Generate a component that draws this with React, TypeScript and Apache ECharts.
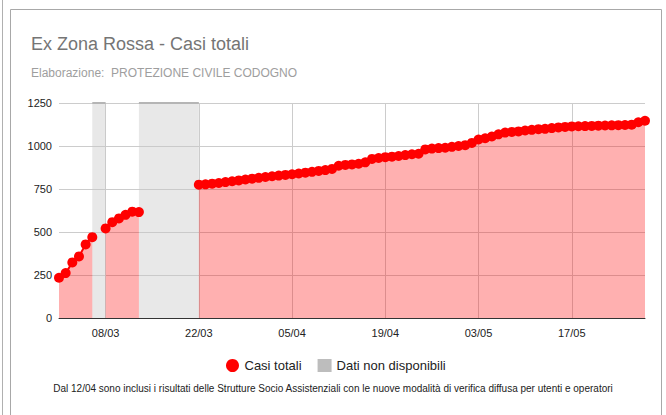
import React, { useEffect, useRef } from "react";
import * as echarts from "echarts";

// Category axis: every day from 01/03 to 28/05
const START_DAY = 1;
const START_MONTH = 3;
const DAY_COUNT = 89;
const dates: string[] = [];
for (let i = 0; i < DAY_COUNT; i++) {
  const d = new Date(2020, START_MONTH - 1, START_DAY + i);
  const dd = String(d.getDate()).padStart(2, "0");
  const mm = String(d.getMonth() + 1).padStart(2, "0");
  dates.push(`${dd}/${mm}`);
}

// Casi totali, segment 1: 01/03 - 06/03
const casiSegment1 = [234, 261, 323, 358, 428, 470];
// 07/03: no data
const gap1 = [null];
// segment 2: 08/03 - 13/03
const casiSegment2 = [521, 557, 579, 600, 618, 616];
// 14/03 - 21/03: no data
const gap2 = [null, null, null, null, null, null, null, null];
// segment 3: 22/03 - 28/05
const casiSegment3 = [
  775, 777, 781, 785, 790, 795, 800, 805, 810, 815,
  820, 824, 828, 832, 836, 840, 845, 850, 855, 860,
  867, 885, 890, 893, 897, 905, 925, 930, 935, 938,
  942, 947, 952, 955, 980, 985, 988, 990, 995, 1000,
  1005, 1018, 1038, 1045, 1055, 1068, 1078, 1082, 1085, 1090,
  1094, 1098, 1100, 1104, 1108, 1111, 1114, 1115, 1116, 1117,
  1118, 1119, 1120, 1121, 1122, 1124, 1138, 1147,
];
const casiTotali: (number | null)[] = [
  ...casiSegment1,
  ...gap1,
  ...casiSegment2,
  ...gap2,
  ...casiSegment3,
];

// "Dati non disponibili" bands (value = top of axis) on the days that bound the gaps
const NA_VALUE = 1250;
const naDays = ["06/03", "07/03", "08/03", "13/03", "14/03", "15/03", "16/03", "17/03", "18/03", "19/03", "20/03", "21/03", "22/03"];
const datiNonDisponibili: (number | null)[] = dates.map((d) => (naDays.includes(d) ? NA_VALUE : null));

const yTicks = { min: 0, max: 1250, interval: 250 };
const TITLE = "Ex Zona Rossa - Casi totali";
const SUBTITLE = "Elaborazione:  PROTEZIONE CIVILE CODOGNO";
const NOTE =
  "Dal 12/04 sono inclusi i risultati delle Strutture Socio Assistenziali con le nuove modalità di verifica diffusa per utenti e operatori";

const FONT = "'Liberation Sans', Arial, sans-serif";

export default function App() {
  const ref = useRef<HTMLDivElement>(null);
  useEffect(() => {
    if (!ref.current) return;
    const chart = echarts.init(ref.current, undefined, { renderer: "svg" });
    const labelEvery = (index: number) => index >= 7 && (index - 7) % 14 === 0;
    chart.setOption({
      animation: false,
      backgroundColor: "#ffffff",
      textStyle: { fontFamily: FONT },
      grid: { left: 59, right: 21, top: 103, bottom: 97, containLabel: false },
      legend: {
        left: 221,
        top: 354,
        itemGap: 16,
        itemWidth: 14,
        itemHeight: 13,
        textStyle: { fontSize: 13, color: "#222", fontFamily: FONT },
        data: [
          { name: "Casi totali", icon: "circle" },
          { name: "Dati non disponibili", icon: "rect" },
        ],
      },
      xAxis: {
        type: "category",
        data: dates,
        boundaryGap: false,
        axisTick: { show: false },
        axisLine: { lineStyle: { color: "#333", width: 1 } },
        axisLabel: { interval: labelEvery, color: "#222", fontSize: 11, margin: 9, fontFamily: FONT },
        splitLine: { show: true, interval: labelEvery, lineStyle: { color: "#cccccc" } },
      },
      yAxis: {
        type: "value",
        ...yTicks,
        axisLabel: { color: "#222", fontSize: 11, margin: 7, fontFamily: FONT, formatter: (v: number) => String(v) },
        axisLine: { show: false },
        axisTick: { show: false },
        splitLine: { lineStyle: { color: "#cccccc" } },
      },
      series: [
        {
          name: "Dati non disponibili",
          type: "line",
          data: datiNonDisponibili,
          symbol: "none",
          connectNulls: false,
          color: "#bdbdbd",
          lineStyle: { color: "#b5b5b5", width: 2 },
          areaStyle: { color: "rgba(200,200,200,0.42)", opacity: 1 },
          z: 1,
        },
        {
          name: "Casi totali",
          type: "line",
          data: casiTotali,
          connectNulls: false,
          showAllSymbol: true,
          symbol: "circle",
          symbolSize: 10,
          color: "#ff0000",
          itemStyle: { color: "#ff0000" },
          lineStyle: { color: "#ff0000", width: 2 },
          areaStyle: { color: "rgba(255,0,0,0.31)", opacity: 1 },
          z: 3,
        },
      ],
      graphic: [
        { type: "line", shape: { x1: 2.5, y1: 0, x2: 2.5, y2: 415 }, style: { stroke: "#b0b0b0", lineWidth: 1 } },
        { type: "line", shape: { x1: 10.5, y1: 9.5, x2: 661.5, y2: 9.5 }, style: { stroke: "#a8a8a8", lineWidth: 1 } },
        { type: "line", shape: { x1: 10.5, y1: 9.5, x2: 10.5, y2: 415 }, style: { stroke: "#a8a8a8", lineWidth: 1 } },
        { type: "line", shape: { x1: 661.5, y1: 9.5, x2: 661.5, y2: 415 }, style: { stroke: "#a8a8a8", lineWidth: 1 } },
        {
          type: "text",
          x: 31,
          y: 44,
          style: { text: TITLE, fontSize: 18, fill: "#757575", fontFamily: FONT, textVerticalAlign: "middle" },
        },
        {
          type: "text",
          x: 31,
          y: 73,
          style: { text: SUBTITLE, fontSize: 12, fill: "#9e9e9e", fontFamily: FONT, textVerticalAlign: "middle" },
        },
        {
          type: "text",
          x: 333,
          y: 388,
          style: { text: NOTE, fontSize: 10, fill: "#222", fontFamily: FONT, textAlign: "center", textVerticalAlign: "middle" },
        },
      ],
    });
    return () => chart.dispose();
  }, []);
  return (
    <div
      ref={ref}
      style={{ position: "absolute", left: 0, top: 0, width: 666, height: 415, background: "#fff" }}
    />
  );
}
